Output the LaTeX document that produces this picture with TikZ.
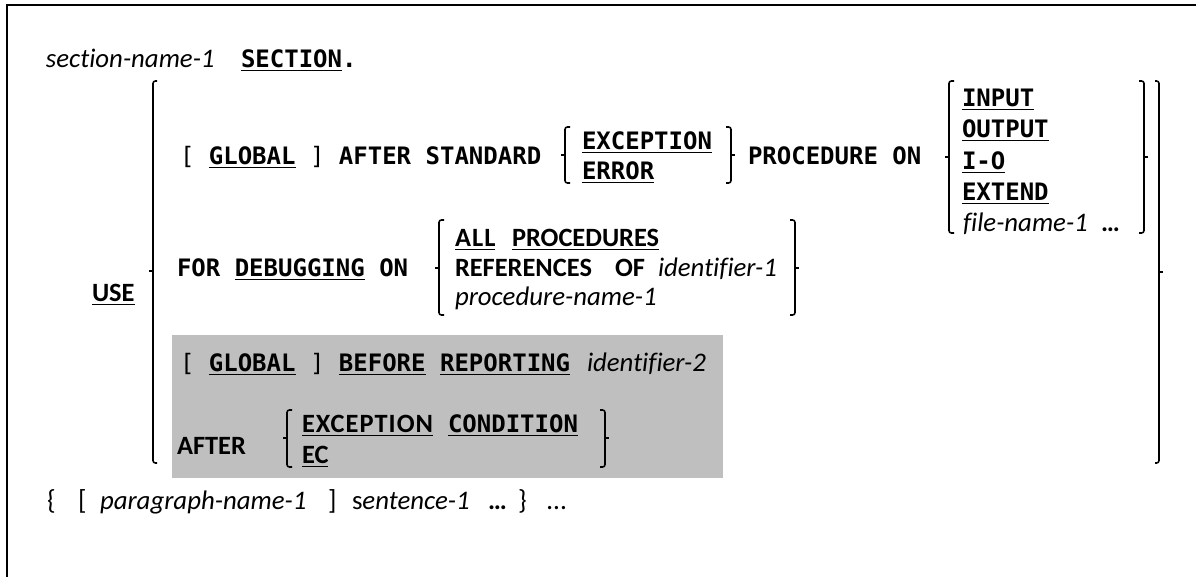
\documentclass[tikz,border=0pt]{standalone}
\usepackage{fontspec}
\newfontfamily\monofam{DejaVu Sans Mono}
\newfontfamily\calfam{Carlito}[Ligatures=NoCommon]
\newfontfamily\calwide{Carlito}[Ligatures=NoCommon,LetterSpace=4]
\definecolor{boxgrey}{RGB}{191,191,191}
% underline with a fixed offset and weight
\newcommand\ulw[1]{\setbox0\hbox{#1}\rlap{\rule[-1.6pt]{\wd0}{0.8pt}}\box0\relax}
% bracket helpers: x, top, bottom, middle, hook length
\newcommand\lbrk[5]{\draw[brk] (#1+#5,#2) -- (#1,#2) -- (#1,#3) -- (#1+#5,#3);
  \draw[brk,rounded corners=0pt] (#1,#4) -- (#1-4,#4);}
\newcommand\rbrk[5]{\draw[brk] (#1-#5,#2) -- (#1,#2) -- (#1,#3) -- (#1-#5,#3);
  \draw[brk,rounded corners=0pt] (#1,#4) -- (#1+4,#4);}
\begin{document}
\begin{tikzpicture}[x=0.5pt,y=-0.5pt,
  mk/.style={anchor=base west,inner sep=0pt,outer sep=0pt,font=\monofam\bfseries\fontsize{12}{14}\selectfont},
  sk/.style={anchor=base west,inner sep=0pt,outer sep=0pt,font=\calfam\bfseries\fontsize{13.2}{16}\selectfont},
  it/.style={anchor=base west,inner sep=0pt,outer sep=0pt,font=\calfam\itshape\fontsize{13.4}{16}\selectfont},
  rm/.style={anchor=base west,inner sep=0pt,outer sep=0pt,font=\calfam\fontsize{13.8}{16}\selectfont},
  brk/.style={line width=0.8pt,rounded corners=1.2pt},
  frame/.style={line width=1pt},
  greybox/.style={fill=boxgrey,draw=none}]
\useasboundingbox (0,0) rectangle (1196,577);

% left and top edges of the frame
\draw[frame] (7,577) -- (7,5) -- (1196,5);

% shaded report-writer alternative
\fill[greybox] (172,335) rectangle (723,478);

% header
\node[it] (secname) at (46,68) {section-name-1};
\node[mk] (seckw) at (241,68) {\ulw{SECTION}.};

% outer choice
\node[sk] (use) at (92,302) {\ulw{USE}};
\lbrk{153}{81}{463}{271}{4}
\rbrk{1159}{81}{463}{272}{4}

% first alternative
\node[mk] (r1) at (180,165) {{\mdseries[} \ulw{GLOBAL} {\mdseries]} AFTER STANDARD};
\lbrk{565}{127}{183}{155}{5}
\node[mk] (exc) at (582,150) {\ulw{EXCEPTION}};
\node[mk] (err) at (582,180) {\ulw{ERROR}};
\rbrk{731}{127}{183}{155}{5}
\node[mk] (procon) at (748,165) {PROCEDURE ON};
\lbrk{949}{81}{233}{157}{5}
\node[mk] (inp) at (962,107) {\ulw{INPUT}};
\node[mk] (outp) at (962,138) {\ulw{OUTPUT}};
\node[mk] (io) at (962,170) {\ulw{I-O}};
\node[mk] (ext) at (962,201) {\ulw{EXTEND}};
\node[it] (fname) at (963,232) {file-name-1};
\node[sk] (fdots) at (1101,232) {…};
\rbrk{1144}{81}{233}{157}{5}

% second alternative
\node[mk] (r2) at (177,277) {FOR \ulw{DEBUGGING} ON};
\lbrk{439}{220}{315}{268}{5}
\node[sk] (allkw) at (455,247) {\ulw{\calwide ALL}};
\node[sk] (prockw) at (512,247) {\ulw{PROCEDURES}};
\node[sk] (refkw) at (455,277) {REFERENCES};
\node[sk] (ofkw) at (615,277) {OF};
\node[it] (ident1) at (658,277) {identifier-1};
\node[it] (pname) at (455,306) {procedure-name-1};
\rbrk{795}{220}{315}{268}{5}

% third alternative
\node[mk] (r3) at (180,372) {{\mdseries[} \ulw{GLOBAL} {\mdseries]} \ulw{BEFORE} \ulw{REPORTING}};
\node[it] (ident2) at (587,372) {identifier-2};

% fourth alternative
\node[sk] (aft) at (177,455) {AFTER};
\lbrk{287}{410}{467}{438}{5}
\node[sk] (exc2) at (302,433) {\ulw{\calwide EXCEPTION}};
\node[mk] (cond) at (448,433) {\ulw{CONDITION}};
\node[sk] (eckw) at (302,464) {\ulw{EC}};
\rbrk{605}{410}{467}{438}{5}

% paragraphs
\node[rm] (lb) at (47,510) {\{};
\node[rm] (lsq) at (78,510) {[};
\node[it] (para) at (100,510) {paragraph-name-1};
\node[rm] (rsq) at (328,510) {]};
\node[it] (sent) at (352,510) {{\upshape s}entence-1};
\node[sk] (sdots) at (488,510) {…};
\node[rm] (rb) at (518,510) {\}};
\node[rm] (pdots) at (547,510) {…};
\end{tikzpicture}
\end{document}
